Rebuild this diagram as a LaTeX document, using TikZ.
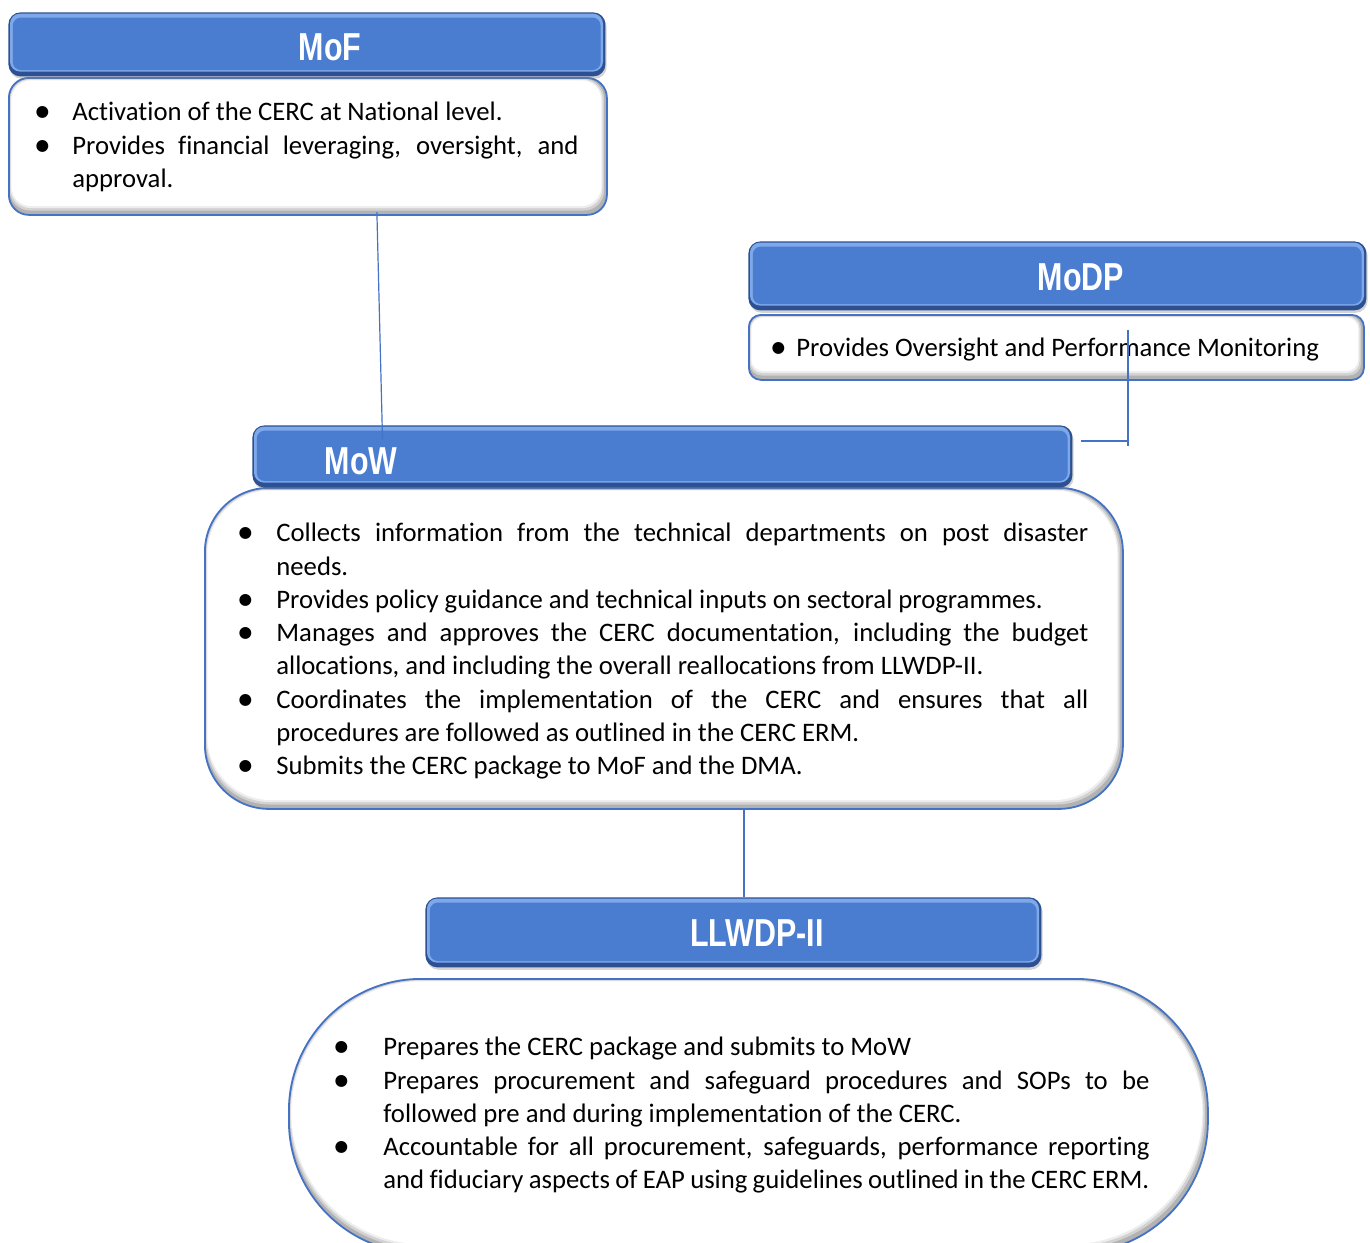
\documentclass[tikz,border=0pt]{standalone}
\usepackage{fontspec}
\setmainfont{Carlito}[Ligatures=NoCommon]
\newfontfamily\hdrfamily{Liberation Sans}
\newfontfamily\dotfamily{DejaVu Sans}
\usepackage{graphicx}
\usepackage{enumitem}
\usetikzlibrary{calc, shadows}

\definecolor{hdrmain}{RGB}{74,124,208}
\definecolor{hdrlight}{RGB}{125,168,233}
\definecolor{hdrdark}{RGB}{44,80,146}
\definecolor{edgeblue}{RGB}{68,114,196}

\hyphenpenalty=10000
\exhyphenpenalty=10000
\newcommand{\dotlabel}{\makebox[0pt]{\raisebox{2pt}{\dotfamily\fontsize{7.8}{7.8}\selectfont ●}}}
\newcommand{\narrow}[1]{\scalebox{0.78}[1]{#1}}
\newlist{dotlist}{itemize}{1}
\setlist[dotlist]{label=\dotlabel, labelwidth=0pt, itemsep=0pt, topsep=0pt, parsep=0pt, partopsep=0pt}

\begin{document}
\begin{tikzpicture}[x=0.5pt, y=-0.5pt,
  hdrbox/.style={rectangle, rounded corners=6pt, fill=hdrdark, inner sep=0pt, anchor=north west,
    drop shadow={shadow xshift=0.6pt, shadow yshift=-1.2pt, opacity=0.35},
    path picture={
      \fill[hdrlight, rounded corners=5pt]
        ([xshift=0.8pt,yshift=-0.6pt]path picture bounding box.north west) rectangle
        ([xshift=-1.2pt,yshift=2.4pt]path picture bounding box.south east);
      \fill[hdrmain, rounded corners=4pt]
        ([xshift=2.2pt,yshift=-2.6pt]path picture bounding box.north west) rectangle
        ([xshift=-2.4pt,yshift=3.2pt]path picture bounding box.south east);
    }},
  bodybox/.style={rectangle, rounded corners=#1, draw=edgeblue, line width=0.9pt, fill=gray!60,
    inner sep=0pt, anchor=north west,
    path picture={
      \fill[gray!35, rounded corners=#1]
        ([xshift=0.4pt,yshift=-0.4pt]path picture bounding box.north west) rectangle
        ([xshift=-1.4pt,yshift=2.2pt]path picture bounding box.south east);
      \fill[gray!14, rounded corners=#1]
        ([xshift=0.8pt,yshift=-0.8pt]path picture bounding box.north west) rectangle
        ([xshift=-2.2pt,yshift=3.4pt]path picture bounding box.south east);
      \fill[white, rounded corners=#1]
        ([xshift=1.2pt,yshift=-1.2pt]path picture bounding box.north west) rectangle
        ([xshift=-2.8pt,yshift=4.4pt]path picture bounding box.south east);
    }},
  hdrlabel/.style={text=white, inner sep=0pt, font=\hdrfamily\bfseries\fontsize{19.5}{20}\selectfont},
  listtext/.style={anchor=north west, inner sep=0pt, align=justify,
    font=\fontsize{13.35}{16.65}\selectfont},
  link/.style={draw=edgeblue, line width=0.6pt}]
\useasboundingbox (0,0) rectangle (1370,1242);

% text boxes
\node[bodybox=10pt, minimum width=299pt, minimum height=68.5pt] (mofB) at (8,77) {};
\node[bodybox=6pt, minimum width=307.5pt, minimum height=32.5pt] (modpB) at (748,314) {};
\node[bodybox=32pt, minimum width=459pt, minimum height=160.5pt] (mowB) at (204,487) {};
\node[bodybox=66pt, minimum width=459.5pt, minimum height=137pt] (llwB) at (288,978) {};

% title bars
\node[hdrbox, minimum width=298.5pt, minimum height=32pt] (mofH) at (8,12) {};
\node[hdrbox, minimum width=309pt, minimum height=34.5pt] (modpH) at (748,241) {};
\node[hdrbox, minimum width=410pt, minimum height=31pt] (mowH) at (252,425) {};
\node[hdrbox, minimum width=308pt, minimum height=35pt] (llwH) at (425,897) {};

\node[hdrlabel] (mofT) at (330,47) {\narrow{MoF}};
\node[hdrlabel] (modpT) at (1081,277) {\narrow{MoDP}};
\node[hdrlabel] (mowT) at (361,461) {\narrow{MoW}};
\node[hdrlabel] (llwT) at (757,933) {\narrow{LLWDP-II}};

% bullet lists
\node[listtext, text width=268pt] (mofL) at (42,87) {%
\begin{dotlist}[leftmargin=15pt, labelsep=15pt]
\item Activation of the CERC at National level.
\item Provides financial leveraging, oversight, and approval.
\end{dotlist}};

\node[listtext, text width=281pt] (modpL) at (778,323) {%
\begin{dotlist}[leftmargin=9pt, labelsep=9pt]
\item Provides Oversight and Performance Monitoring
\end{dotlist}};

\node[listtext, text width=421.5pt] (mowL) at (245,508) {%
\begin{dotlist}[leftmargin=15.5pt, labelsep=15.5pt]
\item Collects information from the technical departments on post disaster\linebreak needs.
\item Provides policy guidance and technical inputs on sectoral programmes.
\item Manages and approves the CERC documentation, including the budget allocations, and including the overall reallocations from LLWDP-II.
\item Coordinates the implementation of the CERC and ensures that all\linebreak procedures are followed as outlined in the CERC ERM.
\item Submits the CERC package to MoF and the DMA.
\end{dotlist}};

\node[listtext, text width=404pt] (llwL) at (341,1022) {%
\begin{dotlist}[leftmargin=21pt, labelsep=21pt]
\item Prepares the CERC package and submits to MoW
\item Prepares procurement and safeguard procedures and SOPs to be followed pre and during implementation of the CERC.
\item Accountable for all procurement, safeguards, performance reporting and fiduciary aspects of EAP using guidelines outlined in the CERC ERM.
\end{dotlist}};

% connectors
\coordinate (mofOut) at ([yshift=2pt]$(mofB.south west)!0.615!(mofB.south east)$);
\coordinate (mowIn) at ([yshift=-7pt]$(mowH.north west)!0.159!(mowH.north east)$);
\draw[link] (mofOut) -- (mowIn);
\coordinate (modpOut) at ([yshift=-8pt]$(modpB.north west)!0.616!(modpB.north east)$);
\draw[link] (modpOut) -- ++(0,116);
\draw[link] (modpOut |- 0,441) -- ([xshift=4pt]mowH.east |- 0,441);
\coordinate (mowOut) at ($(mowB.south west)!0.587!(mowB.south east)$);
\draw[link] (mowOut) -- (mowOut |- llwH.north);
\end{tikzpicture}
\end{document}
